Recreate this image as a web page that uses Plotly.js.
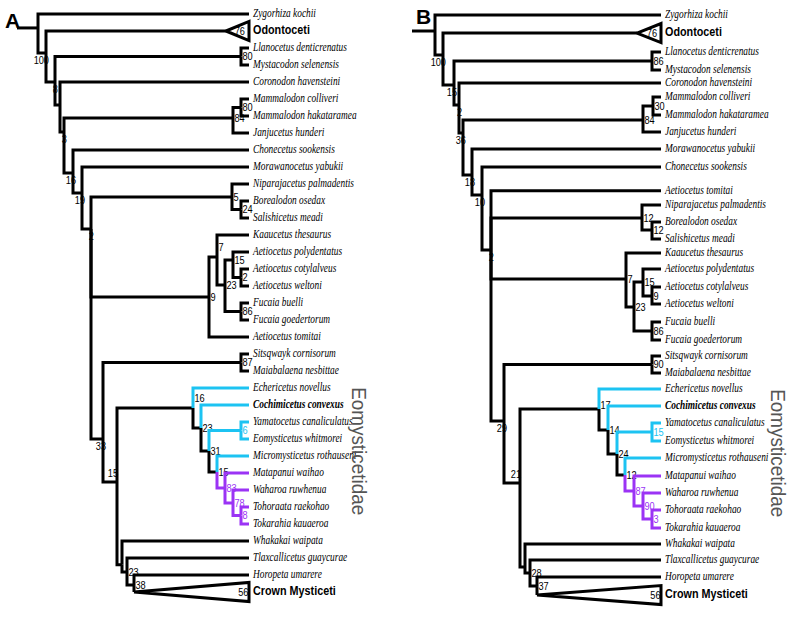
<!DOCTYPE html>
<html><head><meta charset="utf-8">
<script src="https://cdn.plot.ly/plotly-3.0.1.min.js"></script>
<style>html,body{margin:0;padding:0;background:#fff}</style>
</head><body>
<div id="chart" style="width:800px;height:618px"></div>
<script>
// ================= DATA =================
// Leaf order, tree A
const taxaA = ["Zygorhiza kochii","Odontoceti","Llanocetus denticrenatus","Mystacodon selenensis","Coronodon havensteini","Mammalodon colliveri","Mammalodon hakataramea","Janjucetus hunderi","Chonecetus sookensis","Morawanocetus yabukii","Niparajacetus palmadentis","Borealodon osedax","Salishicetus meadi","Kaaucetus thesaurus","Aetiocetus polydentatus","Aetiocetus cotylalveus","Aetiocetus weltoni","Fucaia buelli","Fucaia goedertorum","Aetiocetus tomitai","Sitsqwayk cornisorum","Maiabalaena nesbittae","Echericetus novellus","Cochimicetus convexus","Yamatocetus canaliculatus","Eomysticetus whitmorei","Micromysticetus rothauseni","Matapanui waihao","Waharoa ruwhenua","Tohoraata raekohao","Tokarahia kauaeroa","Whakakai waipata","Tlaxcallicetus guaycurae","Horopeta umarere","Crown Mysticeti"];
const leafRowA = [0,1,2,3,4,5,6,7,8,9,10,11,12,13,14,15,16,17,18,19,20,21,22,23,24,25,26,27,28,29,30,31,32,33,34];

// Internal nodes, tree A (depth = distance from left edge, row = vertical position in leaf rows)
const nodeIdA    = ["root","n100","n8","llan","n60","n3","mam","mam2","n1a","n1b","n2","nip","nip2","aet","ae7","ae23","ae15","ae2","fuc","n33","sits","n15","e1","e2","e3","yam","e4","e5","e6","e7","w","t","h"];
const nodeDepthA = [38,46,55,241,60,64,233,241,73,82,91,232,241,209,217,225,233,241,241,103,241,117,193,201,209,241,217,225,233,241,122,127,134];
const nodeRowA   = [0.82,2.29,4.0,2.5,5.35,6.94,6.12,5.5,9.35,10.53,12.65,10.76,11.5,16.65,14.3,15.94,14.47,15.5,17.5,25.0,20.5,27.53,23.18,24.35,25.7,24.5,26.94,27.88,28.76,29.5,32.4,32.82,33.59];
const nodeKidsA  = [[0,"n100"],[1,"n8"],["llan","n60"],[2,3],[4,"n3"],["mam","n1a"],["mam2",7],[5,6],[8,"n1b"],[9,"n2"],["nip","aet","n33"],[10,"nip2"],[11,12],["ae7",19],[13,"ae23"],["ae15","fuc"],[14,"ae2"],[15,16],[17,18],["sits","n15"],[20,21],["e1","w"],[22,"e2"],[23,"e3"],["yam","e4"],[24,25],[26,"e5"],[27,"e6"],[28,"e7"],[29,30],[31,"t"],[32,"h"],[33,34]];
const supportA   = ["","100","8","80","","3","84","80","16","19","2","5","24","9","7","23","15","2","86","33","87","15","16","23","31","6","15","83","78","8","","23","38"];
const collapsedA = {1: {apex: 226, support: "76"}, 34: {apex: 134, support: "56"}};
const rootStartA = 17, tipDepthA = 249;

// Leaf order, tree B
const taxaB = ["Zygorhiza kochii","Odontoceti","Llanocetus denticrenatus","Mystacodon selenensis","Coronodon havensteini","Mammalodon colliveri","Mammalodon hakataramea","Janjucetus hunderi","Morawanocetus yabukii","Chonecetus sookensis","Aetiocetus tomitai","Niparajacetus palmadentis","Borealodon osedax","Salishicetus meadi","Kaaucetus thesaurus","Aetiocetus polydentatus","Aetiocetus cotylalveus","Aetiocetus weltoni","Fucaia buelli","Fucaia goedertorum","Sitsqwayk cornisorum","Maiabalaena nesbittae","Echericetus novellus","Cochimicetus convexus","Yamatocetus canaliculatus","Eomysticetus whitmorei","Micromysticetus rothauseni","Matapanui waihao","Waharoa ruwhenua","Tohoraata raekohao","Tokarahia kauaeroa","Whakakai waipata","Tlaxcallicetus guaycurae","Horopeta umarere","Crown Mysticeti"];
const leafRowB = [0.06,1.12,2.24,3.29,4.06,4.88,5.94,6.94,7.94,9.0,10.4,11.24,12.24,13.24,14.06,15.0,16.06,17.06,18.12,19.18,20.12,21.12,22.06,23.06,24.06,25.12,26.12,27.18,28.18,29.18,30.24,31.18,32.12,33.12,34.18];

const nodeIdB    = ["root","n100","n15","llan","n2","n36","mam","mam2","n18","n10","n2b","nip","nip2","aet","ae23","ae15","ae9","fuc","n29","sits","n21","e1","e2","e3","yam","e4","e5","e6","e7","w","t","h"];
const nodeDepthB = [35,43,54,252,59,63,243,253,72,82,91,242,252,226,234,243,252,252,104,252,120,199,208,217,252,225,234,243,252,125,130,137];
const nodeRowB   = [1.0,2.41,4.18,2.76,5.35,7.0,6.24,5.41,9.47,10.65,13.88,12.0,12.71,15.59,17.24,15.76,16.59,18.65,23.94,20.62,27.59,23.24,24.47,25.88,24.59,27.12,28.06,28.94,29.71,32.53,32.88,33.65];
const nodeKidsB  = [[0,"n100"],[1,"n15"],["llan","n2"],[2,3],[4,"n36"],["mam","n18"],["mam2",7],[5,6],[8,"n10"],[9,"n2b"],[10,"nip","aet","n29"],[11,"nip2"],[12,13],[14,"ae23"],["ae15","fuc"],[15,"ae9"],[16,17],[18,19],["sits","n21"],[20,21],["e1","w"],[22,"e2"],[23,"e3"],["yam","e4"],[24,25],[26,"e5"],[27,"e6"],[28,"e7"],[29,30],[31,"t"],[32,"h"],[33,34]];
const supportB   = ["","100","15","86","2","36","84","30","18","10","2","12","12","7","23","15","9","86","29","90","21","17","14","24","15","12","87","90","3","","28","37"];
const collapsedB = {1: {apex: 237, support: "76"}, 34: {apex: 137, support: "56"}};
const rootStartB = 12, tipDepthB = 261;

// Eomysticetidae colouring (same leaf indices / node ids in both trees)
const cyanLeaves = [22,23,24,25,26], cyanNodes = ["yam"];
const purpleLeaves = [27,28,29,30], purpleNodes = ["e5","e6","e7"];
const boldItalicTaxa = ["Cochimicetus convexus"];

// ================= STYLE =================
const COL = {black:'#000000', cyan:'#1CC3F2', purple:'#9B33F5'};
const LW = 3;
const TRI_HALF = 0.56; // rows
const labelModeA = {n100:'bl',n8:'bl',n3:'bl',n1a:'bl',n1b:'bl',n2:'bl',n33:'bl',n15:'al',ae7:'ru',e1:'ru'};
const labelModeB = {n100:'bl',n15:'bl',n2:'bl',n36:'bl',n18:'bl',n10:'bl',n2b:'bl',n29:'bl',n21:'al',e1:'ru2'};
const PX_PER_ROW = 17;
const SERIF = "'Liberation Serif','Times New Roman',serif";
const SANS = "'Liberation Sans',Arial,sans-serif";

function colorOf(k){
  if(typeof k === 'number'){
    if(cyanLeaves.includes(k)) return 'cyan';
    if(purpleLeaves.includes(k)) return 'purple';
    return 'black';
  }
  if(cyanNodes.includes(k)) return 'cyan';
  if(purpleNodes.includes(k)) return 'purple';
  return 'black';
}

function buildTree(T, xa, ya){
  const idx = {}; T.ids.forEach((id,i)=>idx[id]=i);
  const segs = {black:{x:[],y:[]}, cyan:{x:[],y:[]}, purple:{x:[],y:[]}};
  function pos(k){
    if(typeof k === 'number'){
      const c = T.collapsed[k];
      return {x: c ? c.apex : T.tip, y: T.leafRow[k]};
    }
    const i = idx[k]; return {x: T.depth[i], y: T.row[i]};
  }
  segs.black.x.push(T.rootStart, T.depth[0], null); segs.black.y.push(T.row[0], T.row[0], null);
  T.ids.forEach((id,i)=>{
    const px = T.depth[i], py = T.row[i];
    T.kids[i].forEach(k=>{
      const c = pos(k), s = segs[colorOf(k)];
      s.x.push(px, px, c.x, null); s.y.push(py, c.y, c.y, null);
    });
  });
  Object.keys(T.collapsed).forEach(key=>{
    const k = +key, c = T.collapsed[k], r = T.leafRow[k];
    segs.black.x.push(c.apex, T.tip, T.tip, c.apex, null);
    segs.black.y.push(r, r - TRI_HALF, r + TRI_HALF, r, null);
  });

  // support labels, grouped by colour (drawn first so branches lie over them)
  const lab = {black:{x:[],y:[],t:[],p:[]}, cyan:{x:[],y:[],t:[],p:[]}, purple:{x:[],y:[],t:[],p:[]}};
  T.ids.forEach((id,i)=>{
    const s = T.support[i]; if(!s) return;
    const x = T.depth[i], y = T.row[i], m = T.mode[id] || 'r';
    let X, Y, P;
    if(m==='bl'){ X = x + 3; Y = y + 2/PX_PER_ROW; P = 'bottom left'; }
    else if(m==='al'){ X = x + 1; Y = y - 2/PX_PER_ROW; P = 'top left'; }
    else if(m==='ru'){ X = x + 1.5; Y = y - 9/PX_PER_ROW; P = 'middle right'; }
    else if(m==='ru2'){ X = x + 1.5; Y = y - 3/PX_PER_ROW; P = 'middle right'; }
    else { X = x + 1.5; Y = y + 1/PX_PER_ROW; P = 'middle right'; }
    const L = lab[colorOf(id)];
    L.x.push(X); L.y.push(Y); L.t.push(s); L.p.push(P);
  });
  Object.keys(T.collapsed).forEach(key=>{
    const k=+key, c=T.collapsed[k];
    lab.black.x.push(T.tip - (k===1 ? 4 : 0.5)); lab.black.y.push(T.leafRow[k] + 1/PX_PER_ROW);
    lab.black.t.push(c.support); lab.black.p.push('middle left');
  });
  const traces = [];
  ['black','cyan','purple'].forEach(c=>{
    traces.push({type:'scatter', mode:'text', x:lab[c].x, y:lab[c].y, text:lab[c].t, textposition:lab[c].p,
      textfont:{family:SANS, size:11.5, color:COL[c]}, xaxis:xa, yaxis:ya, hoverinfo:'skip', cliponaxis:false});
  });
  ['black','cyan','purple'].forEach(c=>{
    traces.push({type:'scatter', mode:'lines', x:segs[c].x, y:segs[c].y, connectgaps:false,
      line:{color:COL[c], width:LW, shape:'linear'}, xaxis:xa, yaxis:ya, hoverinfo:'skip'});
  });
  const tx=[], ty=[], tt=[], gx=[], gy=[], gt=[];
  T.taxa.forEach((name,k)=>{
    if(T.collapsed[k]){ gx.push(T.tip + 4); gy.push(T.leafRow[k]); gt.push('<b>'+name+'</b>'); }
    else {
      tx.push(T.tip + 4); ty.push(T.leafRow[k]);
      tt.push(boldItalicTaxa.includes(name) ? '<b><i>'+name+'</i></b>' : '<i>'+name+'</i>');
    }
  });
  traces.push({type:'scatter', mode:'text', x:tx, y:ty, text:tt, textposition:'middle right',
    textfont:{family:SERIF, size:13, color:'#000'}, xaxis:xa, yaxis:ya, hoverinfo:'skip', cliponaxis:false});
  traces.push({type:'scatter', mode:'text', x:gx, y:gy, text:gt, textposition:'middle right',
    textfont:{family:SANS, size:13.5, color:'#000'}, xaxis:xa, yaxis:ya, hoverinfo:'skip', cliponaxis:false});
  return traces;
}

const treeA = {taxa:taxaA, leafRow:leafRowA, ids:nodeIdA, depth:nodeDepthA, row:nodeRowA, kids:nodeKidsA,
  support:supportA, collapsed:collapsedA, rootStart:rootStartA, tip:tipDepthA, mode:labelModeA};
const treeB = {taxa:taxaB, leafRow:leafRowB, ids:nodeIdB, depth:nodeDepthB, row:nodeRowB, kids:nodeKidsB,
  support:supportB, collapsed:collapsedB, rootStart:rootStartB, tip:tipDepthB, mode:labelModeB};

const traces = buildTree(treeA,'x','y').concat(buildTree(treeB,'x2','y2'));

const yRange = [ (618-14)/PX_PER_ROW, -14/PX_PER_ROW ];
const layout = {
  width:800, height:618, margin:{l:0,r:0,t:0,b:0}, showlegend:false,
  paper_bgcolor:'#ffffff', plot_bgcolor:'#ffffff',
  xaxis:{domain:[0,0.5], range:[0,400], visible:false, fixedrange:true},
  yaxis:{domain:[0,1], range:yRange, visible:false, fixedrange:true},
  xaxis2:{domain:[0.5,1], range:[0,400], visible:false, fixedrange:true, anchor:'y2'},
  yaxis2:{domain:[0,1], range:yRange, visible:false, fixedrange:true, anchor:'x2'},
  annotations:[
    {text:'<b>A</b>', xref:'paper', yref:'paper', x:3/800, y:1-21/618, xanchor:'left', yanchor:'middle', showarrow:false,
     font:{family:SANS, size:21, color:'#000'}},
    {text:'<b>B</b>', xref:'paper', yref:'paper', x:414/800, y:1-17/618, xanchor:'left', yanchor:'middle', showarrow:false,
     font:{family:SANS, size:21, color:'#000'}},
    {text:'Eomysticetidae', xref:'x', yref:'y', x:360, y:(451-14)/PX_PER_ROW, textangle:90, showarrow:false,
     xanchor:'center', yanchor:'middle', font:{family:SANS, size:21, color:'#555555'}},
    {text:'Eomysticetidae', xref:'x2', yref:'y2', x:379, y:(453-14)/PX_PER_ROW, textangle:90, showarrow:false,
     xanchor:'center', yanchor:'middle', font:{family:SANS, size:21, color:'#555555'}}
  ]
};

function squeeze(el, s){
  const x = parseFloat(el.getAttribute('x'))||0;
  el.setAttribute('transform','translate('+x+',0) scale('+s+',1) translate('+(-x)+',0)');
}
Plotly.newPlot('chart', traces, layout, {staticPlot:true, displayModeBar:false}).then(gd=>{
  // the source sets its text in condensed faces: squeeze each text horizontally about its anchor
  gd.querySelectorAll('.textpoint text').forEach(t=>{
    const ff = (t.style.fontFamily||'');
    if(ff.indexOf('Liberation Sans')>=0) squeeze(t, 0.8);
    else if(ff.indexOf('Serif')>=0) squeeze(t, 0.72);
  });
  gd.querySelectorAll('.annotation-text').forEach(t=>{
    if(t.textContent==='Eomysticetidae') squeeze(t, 0.9);
  });
});
</script>
</body></html>
